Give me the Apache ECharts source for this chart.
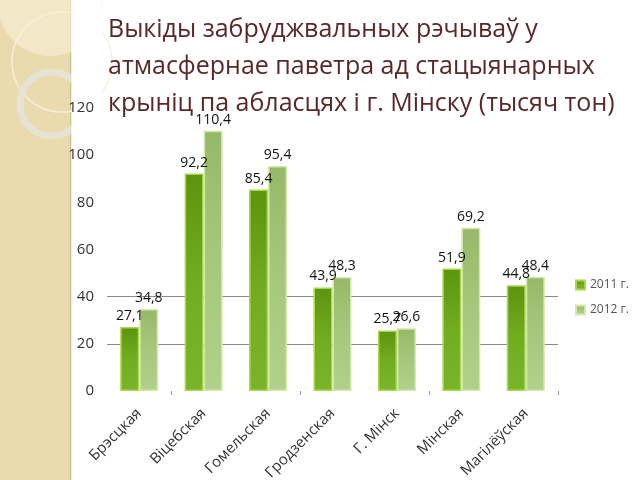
<!DOCTYPE html>
<html>
<head>
<meta charset="utf-8">
<script src="https://cdn.jsdelivr.net/npm/echarts@6/dist/echarts.min.js"></script>
<style>
html,body{margin:0;padding:0;background:#fff;}
#c{width:640px;height:480px;}
</style>
</head>
<body>
<div id="c"></div>
<script>
var titleLines = ['Выкіды забруджвальных рэчываў у', 'атмасфернае паветра ад стацыянарных', 'крыніц па абласцях і г. Мінску (тысяч тон)'];
var categories = ['Брэсцкая', 'Віцебская', 'Гомельская', 'Гродзенская', 'Г. Мінск', 'Мінская', 'Магілёўская'];
var seriesNames = ['2011 г.', '2012 г.'];
var values2011 = [27.1, 92.2, 85.4, 43.9, 25.7, 51.9, 44.8];
var values2012 = [34.8, 110.4, 95.4, 48.3, 26.6, 69.2, 48.4];
var yTicks = [0, 20, 40, 60, 80, 100, 120];

var FONT = '"Open Sans", "Noto Sans", sans-serif';
var chart = echarts.init(document.getElementById('c'), null, {renderer: 'canvas'});

function grad(c1, c2, c3) {
  return new echarts.graphic.LinearGradient(0, 0, 0, 1, [
    {offset: 0, color: c1}, {offset: 0.5, color: c2}, {offset: 1, color: c3}
  ]);
}
function fmt(p) { return String(p.value).replace('.', ','); }

var gridColors = yTicks.map(function (v) { return (v === 20 || v === 40) ? '#8a8a8a' : 'rgba(0,0,0,0)'; });

chart.setOption({
  backgroundColor: '#ffffff',
  animation: false,
  textStyle: {fontFamily: FONT},
  graphic: [
    {type: 'rect', shape: {x: 0, y: 0, width: 71, height: 480}, style: {fill: '#E9DBAE'}, z: -10},
    {type: 'rect', shape: {x: 70, y: 0, width: 1.5, height: 480}, style: {fill: '#CDBE92'}, z: -9},
    {type: 'circle', shape: {cx: 50, cy: 4, r: 52}, style: {fill: 'rgba(245,237,210,0.7)', stroke: 'none'}, z: -9},
    {type: 'circle', shape: {cx: 62, cy: 62, r: 50}, style: {fill: 'none', stroke: 'rgba(247,240,220,0.9)', lineWidth: 1.5}, z: -8},
    {type: 'circle', shape: {cx: 52, cy: 104, r: 32}, style: {fill: 'none', stroke: 'rgba(230,227,216,0.9)', lineWidth: 7}, z: -8},
    {type: 'rect', shape: {x: 71.5, y: 0, width: 30, height: 480}, style: {fill: '#ffffff'}, z: -7},
    {type: 'text', left: 108, top: 11, z: 5,
      style: {text: titleLines.join('\n'), fill: '#5A2828', font: '400 25px ' + FONT, lineHeight: 37}}
  ],
  legend: {
    orient: 'vertical', left: 570, top: 274, itemWidth: 9, itemHeight: 9, itemGap: 13,
    icon: 'rect',
    textStyle: {color: '#555', fontSize: 12, fontFamily: FONT},
    data: seriesNames
  },
  grid: {left: 107, right: 82, top: 108, bottom: 89, containLabel: false, outerBoundsMode: 'none'},
  xAxis: {
    type: 'category', data: categories,
    axisLine: {show: false},
    axisTick: {show: true, alignWithLabel: false, length: 4, lineStyle: {color: '#999'},
      interval: function (i) { return i % 2 === 1; }},
    axisLabel: {rotate: 45, interval: 0, fontSize: 15, color: '#333', margin: 20, fontFamily: FONT}
  },
  yAxis: {
    type: 'value', min: 0, max: 120, interval: 20,
    axisLine: {show: false}, axisTick: {show: false},
    axisLabel: {fontSize: 15, color: '#333', margin: 13, fontFamily: FONT},
    splitLine: {show: true, lineStyle: {color: gridColors, width: 1}}
  },
  series: [
    {
      name: seriesNames[0], type: 'bar', data: values2011, barWidth: 19, barGap: '0%',
      itemStyle: {color: grad('#5C940C', '#72AC1F', '#7AB42A'), borderColor: '#A9D84C', borderWidth: 1.5},
      label: {show: true, position: 'top', distance: 4, fontSize: 14, color: '#111', formatter: fmt, fontFamily: FONT}
    },
    {
      name: seriesNames[1], type: 'bar', data: values2012, barWidth: 19,
      itemStyle: {color: grad('#95B968', '#A6C87C', '#B0D189'), borderColor: '#D3E9AB', borderWidth: 1.5},
      label: {show: true, position: 'top', distance: 4, fontSize: 14, color: '#111', formatter: fmt, fontFamily: FONT}
    }
  ]
});
</script>
</body>
</html>
